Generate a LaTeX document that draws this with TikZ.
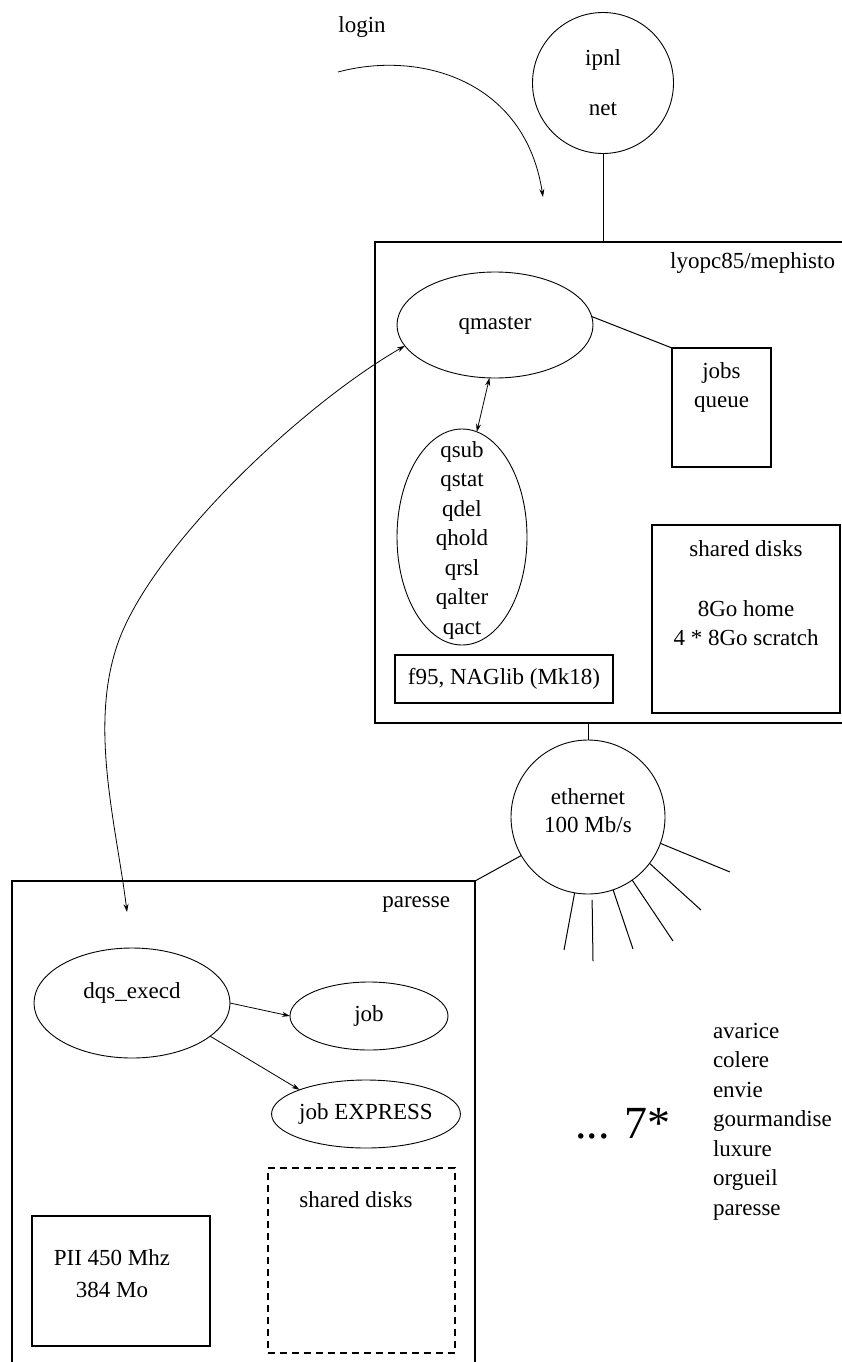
\documentclass[tikz,border=0pt]{standalone}
\usepackage{fontspec}
\setmainfont{Liberation Serif}
\usetikzlibrary{shapes.geometric,arrows.meta,calc}
\begin{document}
\begin{tikzpicture}[x=1pt,y=-1pt,
  every node/.style={font=\fontsize{23}{29.5}\selectfont, inner sep=0pt, outer sep=0pt},
  box/.style={draw, rectangle, line width=1.2pt},
  oval/.style={draw, ellipse, line width=0.9pt, align=center},
  ring/.style={draw, circle, line width=0.9pt, align=center},
  link/.style={line width=1pt},
  arr/.style={line width=0.8pt, -{Stealth[length=8pt,width=5pt]}},
  darr/.style={line width=0.8pt, {Stealth[length=8pt,width=5pt]}-{Stealth[length=8pt,width=5pt]}}]
\useasboundingbox (0,0) rectangle (842,1362);

% top
\node (login) at (362,27) {login};
\coordinate (lgs) at (338,72);
\coordinate (lge) at (543,197);
\draw[arr] (lgs) .. controls (420,50) and (525,80) .. (lge);
\node[ring, minimum size=141pt] (ipnl) at (603,83) {ipnl\\[20.5pt]net};

% lyopc85/mephisto
\node[box, minimum width=480pt, minimum height=481pt] (meph) at (615,482.5) {};
\node[anchor=east] (mephlbl) at (835,263) {lyopc85/mephisto};
\draw[link] (ipnl.south) -- (ipnl.south |- meph.north);

\node[oval, minimum width=196pt, minimum height=106pt] (qmaster) at (495,325) {qmaster};
\node[box, minimum width=99pt, minimum height=119pt] (jobsq) at (721.5,407.5) {};
\node[align=center] (jobsqt) at (721.5,387.5) {jobs\\queue};
\draw[link] (qmaster.5) -- (jobsq.north west);

\node[oval, minimum width=130pt, minimum height=216pt] (qsub) at (462,537) {};
\node[align=center] (qsubt) at (462,540)
  {qsub\\qstat\\qdel\\qhold\\qrsl\\qalter\\qact};
\draw[darr] (qmaster.264) -- (qsub.82);

\node[box, minimum width=218pt, minimum height=48pt] (f95) at (504,679) {f95, NAGlib (Mk18)};
\node[box, minimum width=188pt, minimum height=188pt] (sdtop) at (746,619) {};
\node[align=center] (sdtopt) at (746,593) {shared disks\\[30.5pt]8Go home\\4 * 8Go scratch};

% ethernet
\node[ring, minimum size=154pt] (eth) at (588,817) {};
\node[align=center] (etht) at (588,811) {ethernet\\[-1.5pt]100 Mb/s};
\draw[link] (eth.north) -- (eth.north |- meph.south);

\coordinate (r1) at (564,950);
\coordinate (r2) at (593,961);
\coordinate (r3) at (633,949);
\coordinate (r4) at (673,941);
\coordinate (r5) at (701,910);
\coordinate (r6) at (730,872);
\draw[link] (eth.-100.5) -- (r1);
\draw[link, shorten <=6pt] (eth.-87) -- (r2);
\draw[link] (eth.-71.5) -- (r3);
\draw[link] (eth.-55.5) -- (r4);
\draw[link] (eth.-37) -- (r5);
\draw[link] (eth.-20) -- (r6);

% paresse
\node[box, minimum width=463pt, minimum height=520pt] (par) at (243.5,1141) {};
\draw[link] (eth.210) -- (par.north east);
\node[anchor=east] (parlbl) at (450,905) {paresse};

\node[oval, minimum width=196pt, minimum height=110pt] (dqs) at (132,1003) {};
\node (dqst) at (132,993) {dqs\_execd};
\node[oval, minimum width=158pt, minimum height=68pt] (job) at (369,1016) {job};
\node[oval, minimum width=158pt, minimum height=68pt] (jobx) at (366,1114) {job EXPRESS};
\draw[arr] (dqs.east) -- (job.west);
\draw[arr] (dqs.-23) -- (jobx.160);

\node[box, dash pattern=on 7pt off 5pt, minimum width=187pt, minimum height=185pt] (sdbot) at (361.5,1260.5) {};
\node (sdbott) at (356,1200) {shared disks};
\node[box, minimum width=178pt, minimum height=130pt] (pii) at (121,1281) {};
\node[align=center] (piit) at (112,1274) {PII 450 Mhz\\[2.5pt]384 Mo};

% long arrow qmaster <-> paresse
\coordinate (dqsin) at (127,912);
\coordinate (bend) at (119,640);
\draw[darr] (dqsin) .. controls (116,823) and (88,724) .. (bend)
  .. controls (154,546) and (299,407) .. (qmaster.193);

% right side
\node[font=\fontsize{46}{50}\selectfont] (seven) at (623,1124) {... 7*};
\node[anchor=west, align=left] (sins) at (713,1121.5)
  {avarice\\colere\\envie\\gourmandise\\luxure\\orgueil\\paresse};
\end{tikzpicture}
\end{document}
